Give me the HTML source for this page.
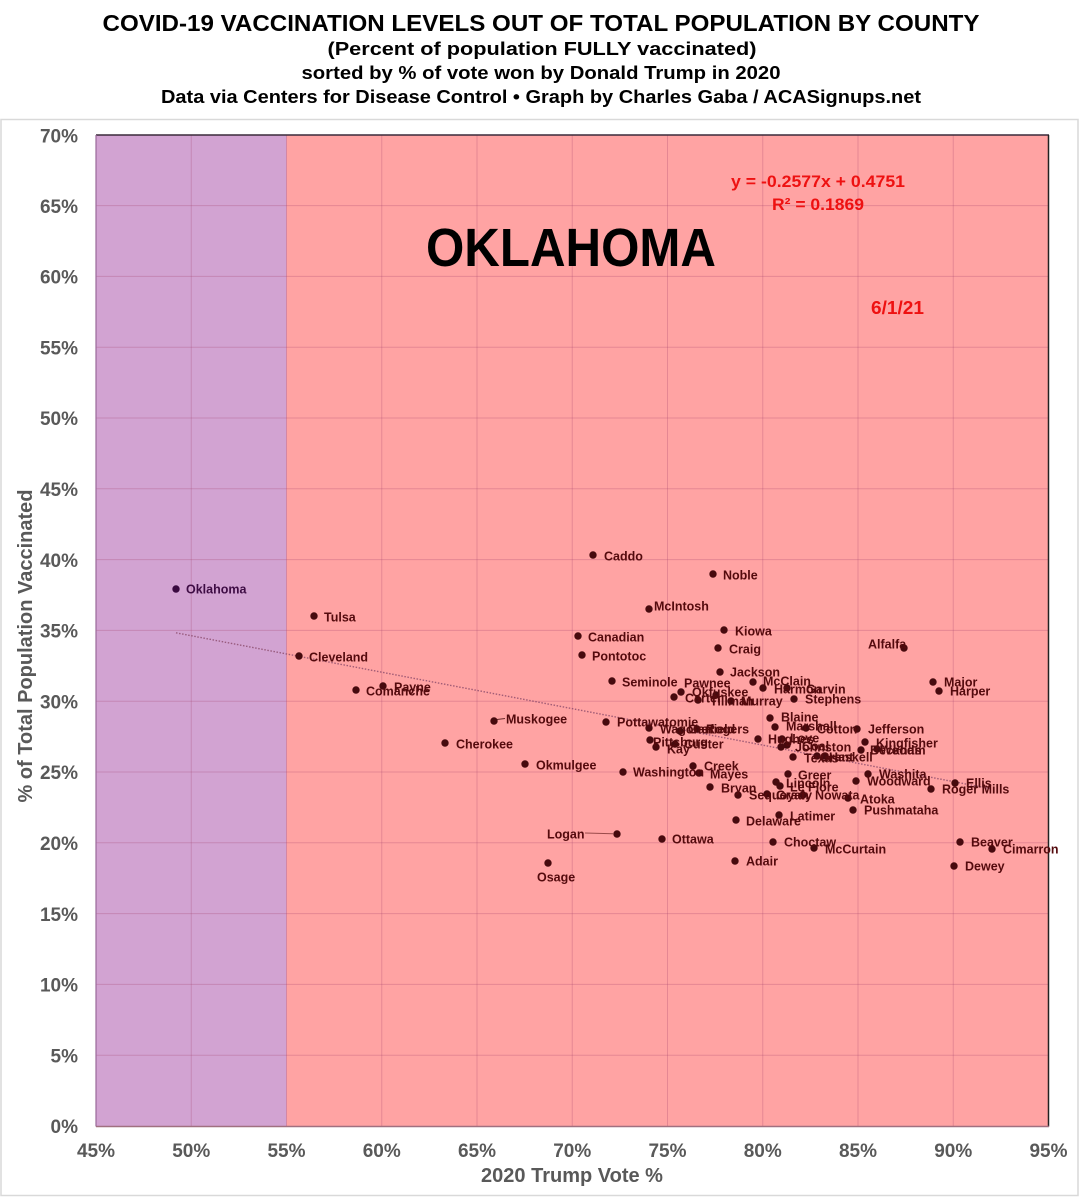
<!DOCTYPE html>
<html>
<head>
<meta charset="utf-8">
<style>
html,body{margin:0;padding:0;background:#fff;}
svg{display:block;}
.t{font-family:"Liberation Sans",Arial,sans-serif;font-weight:bold;fill:#000;}
.ax{font-family:"Liberation Sans",Arial,sans-serif;font-weight:bold;fill:#595959;font-size:19px;}
.lb{font-family:"Liberation Sans",Arial,sans-serif;font-weight:bold;fill:#540a0d;font-size:12.5px;}
.eq{font-family:"Liberation Sans",Arial,sans-serif;font-weight:bold;fill:#ee1111;}
</style>
</head>
<body>
<svg width="1081" height="1200" viewBox="0 0 1081 1200" xmlns="http://www.w3.org/2000/svg">
<rect x="0" y="0" width="1081" height="1200" fill="#fff"/>
<!-- titles -->
<text class="t" x="541" y="31" font-size="23" text-anchor="middle" textLength="877" lengthAdjust="spacingAndGlyphs">COVID-19 VACCINATION LEVELS OUT OF TOTAL POPULATION BY COUNTY</text>
<text class="t" x="542" y="55" font-size="18" text-anchor="middle" textLength="429" lengthAdjust="spacingAndGlyphs">(Percent of population FULLY vaccinated)</text>
<text class="t" x="541" y="79" font-size="18" text-anchor="middle" textLength="479" lengthAdjust="spacingAndGlyphs">sorted by % of vote won by Donald Trump in 2020</text>
<text class="t" x="541" y="103" font-size="18" text-anchor="middle" textLength="760" lengthAdjust="spacingAndGlyphs">Data via Centers for Disease Control • Graph by Charles Gaba / ACASignups.net</text>

<!-- chart frame -->
<rect x="1" y="119.5" width="1077" height="1076" fill="#fff" stroke="#d9d9d9" stroke-width="1.5"/>

<!-- plot bg -->
<rect x="96" y="135" width="190.5" height="991" fill="#d2a3d2"/>
<rect x="286.5" y="135" width="762" height="991" fill="#ffa3a3"/>

<!-- gridlines -->
<g stroke="#a0406a" stroke-opacity="0.28" stroke-width="1">
<line x1="96" x2="1048" y1="1055.2" y2="1055.2"/>
<line x1="96" x2="1048" y1="984.4" y2="984.4"/>
<line x1="96" x2="1048" y1="913.6" y2="913.6"/>
<line x1="96" x2="1048" y1="842.8" y2="842.8"/>
<line x1="96" x2="1048" y1="772.0" y2="772.0"/>
<line x1="96" x2="1048" y1="701.2" y2="701.2"/>
<line x1="96" x2="1048" y1="630.4" y2="630.4"/>
<line x1="96" x2="1048" y1="559.6" y2="559.6"/>
<line x1="96" x2="1048" y1="488.8" y2="488.8"/>
<line x1="96" x2="1048" y1="418.0" y2="418.0"/>
<line x1="96" x2="1048" y1="347.2" y2="347.2"/>
<line x1="96" x2="1048" y1="276.4" y2="276.4"/>
<line x1="96" x2="1048" y1="205.6" y2="205.6"/>
<line y1="135" y2="1126" x1="191.25" x2="191.25"/>
<line y1="135" y2="1126" x1="286.5" x2="286.5"/>
<line y1="135" y2="1126" x1="381.75" x2="381.75"/>
<line y1="135" y2="1126" x1="477" x2="477"/>
<line y1="135" y2="1126" x1="572.25" x2="572.25"/>
<line y1="135" y2="1126" x1="667.5" x2="667.5"/>
<line y1="135" y2="1126" x1="762.75" x2="762.75"/>
<line y1="135" y2="1126" x1="858" x2="858"/>
<line y1="135" y2="1126" x1="953.25" x2="953.25"/>
</g>

<!-- plot borders -->
<line x1="96" x2="1049" y1="135" y2="135" stroke="#3a2a3a" stroke-width="1.5"/>
<line x1="1048.5" x2="1048.5" y1="135" y2="1126.5" stroke="#222" stroke-width="1.5"/>
<line x1="96" x2="96" y1="135" y2="1126.5" stroke="#9a6a9a" stroke-width="1.2"/>
<line x1="96" x2="1049" y1="1126.5" y2="1126.5" stroke="#a07080" stroke-width="1.5"/>

<!-- y tick labels -->
<g class="ax" text-anchor="end">
<text x="78" y="142.5">70%</text>
<text x="78" y="213">65%</text>
<text x="78" y="283.5">60%</text>
<text x="78" y="354.5">55%</text>
<text x="78" y="425">50%</text>
<text x="78" y="496">45%</text>
<text x="78" y="567">40%</text>
<text x="78" y="637.5">35%</text>
<text x="78" y="708.5">30%</text>
<text x="78" y="779">25%</text>
<text x="78" y="850">20%</text>
<text x="78" y="921">15%</text>
<text x="78" y="991.5">10%</text>
<text x="78" y="1062.5">5%</text>
<text x="78" y="1133">0%</text>
</g>
<!-- x tick labels -->
<g class="ax" text-anchor="middle">
<text x="96" y="1157">45%</text>
<text x="191.25" y="1157">50%</text>
<text x="286.5" y="1157">55%</text>
<text x="381.75" y="1157">60%</text>
<text x="477" y="1157">65%</text>
<text x="572.25" y="1157">70%</text>
<text x="667.5" y="1157">75%</text>
<text x="762.75" y="1157">80%</text>
<text x="858" y="1157">85%</text>
<text x="953.25" y="1157">90%</text>
<text x="1048.5" y="1157">95%</text>
</g>
<!-- axis titles -->
<text class="ax" x="572" y="1182" text-anchor="middle" style="font-size:20px">2020 Trump Vote %</text>
<text class="ax" style="font-size:20px" x="0" y="0" text-anchor="middle" transform="translate(32,646) rotate(-90)">% of Total Population Vaccinated</text>

<!-- big labels -->
<text class="t" x="426" y="266" font-size="54" textLength="290" lengthAdjust="spacingAndGlyphs">OKLAHOMA</text>
<text class="eq" x="731" y="187" font-size="17" textLength="174" lengthAdjust="spacingAndGlyphs">y = -0.2577x + 0.4751</text>
<text class="eq" x="772" y="210" font-size="17" textLength="92" lengthAdjust="spacingAndGlyphs">R² = 0.1869</text>
<text class="eq" x="871" y="314" font-size="18" textLength="53" lengthAdjust="spacingAndGlyphs">6/1/21</text>

<!-- trendline -->
<line x1="176" y1="632.8" x2="992" y2="789" stroke="#8a4a6a" stroke-width="1.4" stroke-dasharray="1.5,1.6" opacity="0.8"/>

<!-- leader lines -->
<line x1="497" y1="719.5" x2="505" y2="718.5" stroke="#6a2a2a" stroke-width="1"/>
<line x1="585" y1="833" x2="613" y2="833.8" stroke="#9a4a4a" stroke-width="1"/>

<!-- dots -->
<g fill="#470a0e">
<circle cx="176" cy="589" r="3.7" fill="#3a0a40"/>
<circle cx="314" cy="616" r="3.7"/>
<circle cx="299" cy="656" r="3.7"/>
<circle cx="356" cy="690" r="3.7"/>
<circle cx="383" cy="686" r="3.7"/>
<circle cx="494" cy="721" r="3.7"/>
<circle cx="445" cy="743" r="3.7"/>
<circle cx="525" cy="764" r="3.7"/>
<circle cx="593" cy="555" r="3.7"/>
<circle cx="713" cy="574" r="3.7"/>
<circle cx="649" cy="609" r="3.7"/>
<circle cx="724" cy="630" r="3.7"/>
<circle cx="578" cy="636" r="3.7"/>
<circle cx="718" cy="648" r="3.7"/>
<circle cx="582" cy="655" r="3.7"/>
<circle cx="720" cy="672" r="3.7"/>
<circle cx="612" cy="681" r="3.7"/>
<circle cx="681" cy="692" r="3.7"/>
<circle cx="753" cy="682" r="3.7"/>
<circle cx="716" cy="695" r="3.7"/>
<circle cx="674" cy="697" r="3.7"/>
<circle cx="698" cy="700" r="3.7"/>
<circle cx="731" cy="701" r="3.7"/>
<circle cx="763" cy="688" r="3.7"/>
<circle cx="787" cy="688" r="3.7"/>
<circle cx="794" cy="699" r="3.7"/>
<circle cx="770" cy="718" r="3.7"/>
<circle cx="775" cy="727" r="3.7"/>
<circle cx="806" cy="728" r="3.7"/>
<circle cx="857" cy="729" r="3.7"/>
<circle cx="758" cy="739" r="3.7"/>
<circle cx="782" cy="739" r="3.7"/>
<circle cx="781" cy="747" r="3.7"/>
<circle cx="787" cy="745" r="3.7"/>
<circle cx="865" cy="742" r="3.7"/>
<circle cx="861" cy="750" r="3.7"/>
<circle cx="877" cy="749" r="3.7"/>
<circle cx="793" cy="757" r="3.7"/>
<circle cx="817" cy="756" r="3.7"/>
<circle cx="825" cy="756" r="3.7"/>
<circle cx="606" cy="722" r="3.7"/>
<circle cx="649" cy="728" r="3.7"/>
<circle cx="680" cy="731" r="3.7"/>
<circle cx="697" cy="729" r="3.7"/>
<circle cx="656" cy="747" r="3.7"/>
<circle cx="650" cy="740" r="3.7"/>
<circle cx="675" cy="744" r="3.7"/>
<circle cx="693" cy="766" r="3.7"/>
<circle cx="623" cy="772" r="3.7"/>
<circle cx="699" cy="773" r="3.7"/>
<circle cx="710" cy="787" r="3.7"/>
<circle cx="738" cy="795" r="3.7"/>
<circle cx="767" cy="794" r="3.7"/>
<circle cx="803" cy="795" r="3.7"/>
<circle cx="788" cy="774" r="3.7"/>
<circle cx="776" cy="782" r="3.7"/>
<circle cx="780" cy="786" r="3.7"/>
<circle cx="868" cy="774" r="3.7"/>
<circle cx="856" cy="781" r="3.7"/>
<circle cx="848" cy="798" r="3.7"/>
<circle cx="853" cy="810" r="3.7"/>
<circle cx="955" cy="783" r="3.7"/>
<circle cx="931" cy="789" r="3.7"/>
<circle cx="904" cy="648" r="3.7"/>
<circle cx="933" cy="682" r="3.7"/>
<circle cx="939" cy="691" r="3.7"/>
<circle cx="960" cy="842" r="3.7"/>
<circle cx="992" cy="849" r="3.7"/>
<circle cx="954" cy="866" r="3.7"/>
<circle cx="814" cy="848" r="3.7"/>
<circle cx="773" cy="842" r="3.7"/>
<circle cx="779" cy="815" r="3.7"/>
<circle cx="736" cy="820" r="3.7"/>
<circle cx="735" cy="861" r="3.7"/>
<circle cx="662" cy="839" r="3.7"/>
<circle cx="617" cy="834" r="3.7"/>
<circle cx="548" cy="863" r="3.7"/>
</g>

<!-- labels -->
<g class="lb">
<text x="186" y="593.5" style="fill:#3e0c44">Oklahoma</text>
<text x="324" y="621.5">Tulsa</text>
<text x="309" y="661.5">Cleveland</text>
<text x="366" y="695.5">Comanche</text>
<text x="394" y="691.5">Payne</text>
<text x="506" y="723.5">Muskogee</text>
<text x="456" y="748.5">Cherokee</text>
<text x="536" y="769.5">Okmulgee</text>
<text x="604" y="560.5">Caddo</text>
<text x="723" y="579.5">Noble</text>
<text x="654" y="610.5">McIntosh</text>
<text x="735" y="635.5">Kiowa</text>
<text x="588" y="641.5">Canadian</text>
<text x="729" y="653.5">Craig</text>
<text x="592" y="660.5">Pontotoc</text>
<text x="730" y="676.5">Jackson</text>
<text x="622" y="686.5">Seminole</text>
<text x="684" y="687.5">Pawnee</text>
<text x="763" y="685.5">McClain</text>
<text x="692" y="696.5">Okfuskee</text>
<text x="685" y="702.5">Carter</text>
<text x="710" y="705.5">Tillman</text>
<text x="741" y="705.5">Murray</text>
<text x="774" y="693.5">Harmon</text>
<text x="806" y="693.5">Garvin</text>
<text x="805" y="703.5">Stephens</text>
<text x="781" y="721.5">Blaine</text>
<text x="786" y="730.5">Marshall</text>
<text x="817" y="733.5">Cotton</text>
<text x="868" y="733.5">Jefferson</text>
<text x="768" y="743.5">Hughes</text>
<text x="790" y="742.5">Love</text>
<text x="795" y="751.5">Johnston</text>
<text x="802" y="750.5">Coal</text>
<text x="876" y="747.5">Kingfisher</text>
<text x="870" y="754.5">Beckham</text>
<text x="880" y="754.5">Woods</text>
<text x="804" y="762.5">Texas</text>
<text x="820" y="761.5">Grant</text>
<text x="829" y="761.5">Haskell</text>
<text x="617" y="726.5">Pottawatomie</text>
<text x="660" y="733.5">Wagoner</text>
<text x="688" y="733.5">Garfield</text>
<text x="706" y="733.5">Rogers</text>
<text x="653" y="746.5">Pittsburg</text>
<text x="667" y="753.5">Kay</text>
<text x="684" y="748.5">Custer</text>
<text x="704" y="770.5">Creek</text>
<text x="633" y="776.5">Washington</text>
<text x="710" y="778.5">Mayes</text>
<text x="721" y="792.5">Bryan</text>
<text x="749" y="799.5">Sequoyah</text>
<text x="776" y="799.5">Grady</text>
<text x="815" y="799.5">Nowata</text>
<text x="798" y="779.5">Greer</text>
<text x="786" y="787.5">Lincoln</text>
<text x="790" y="791.5">Le Flore</text>
<text x="879" y="778.5">Washita</text>
<text x="867" y="785.5">Woodward</text>
<text x="860" y="803.5">Atoka</text>
<text x="864" y="814.5">Pushmataha</text>
<text x="966" y="787.5">Ellis</text>
<text x="942" y="793.5">Roger Mills</text>
<text x="868" y="648.5">Alfalfa</text>
<text x="944" y="686.5">Major</text>
<text x="950" y="695.5">Harper</text>
<text x="971" y="846.5">Beaver</text>
<text x="1003" y="853.5">Cimarron</text>
<text x="965" y="870.5">Dewey</text>
<text x="825" y="853.5">McCurtain</text>
<text x="784" y="846.5">Choctaw</text>
<text x="790" y="820.5">Latimer</text>
<text x="746" y="825.5">Delaware</text>
<text x="746" y="865.5">Adair</text>
<text x="672" y="843.5">Ottawa</text>
<text x="547" y="838.5">Logan</text>
<text x="537" y="881.5">Osage</text>
</g>
</svg>
</body>
</html>
